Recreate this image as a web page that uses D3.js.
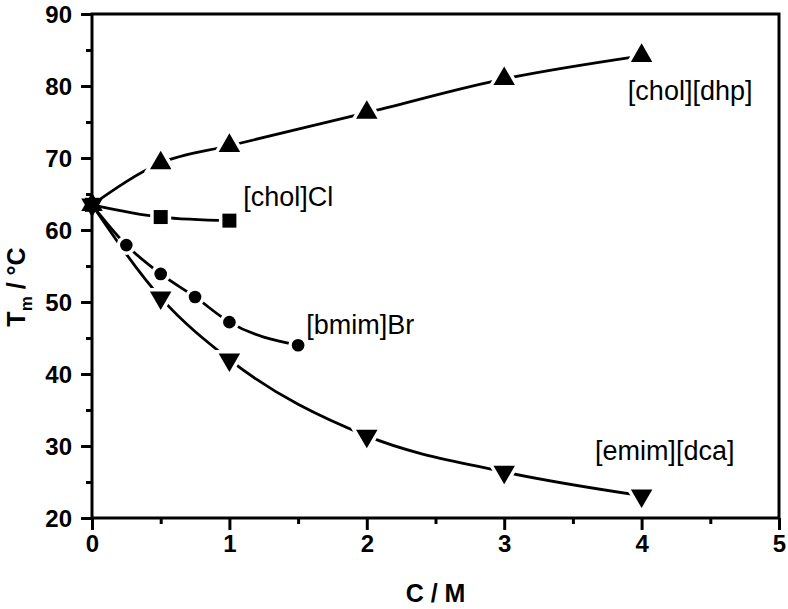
<!DOCTYPE html>
<html><head><meta charset="utf-8">
<script src="https://cdn.jsdelivr.net/npm/d3@7"></script>
<style>body{margin:0;background:#fff}svg{display:block}</style>
</head><body>
<svg id="c" width="788" height="609"></svg>
<script>
// ---- data ----
const xDhp = [0, 0.5, 1, 2, 3, 4];
const yDhp = [63.5, 69.3, 71.7, 76.3, 81.0, 84.2];
const xCl = [0, 0.5, 1];
const yCl = [63.5, 61.8, 61.3];
const xBmim = [0, 0.25, 0.5, 0.75, 1, 1.5];
const yBmim = [63.5, 57.9, 53.9, 50.7, 47.2, 44.0];
const xEmim = [0, 0.5, 1, 2, 3, 4];
const yEmim = [63.5, 50.6, 42.0, 31.4, 26.4, 23.1];
const xTicks = [0, 1, 2, 3, 4, 5];
const yTicks = [20, 30, 40, 50, 60, 70, 80, 90];
const xMinor = [0.5, 1.5, 2.5, 3.5, 4.5];
const yMinor = [25, 35, 45, 55, 65, 75, 85];
const seriesLabels = ["[chol][dhp]", "[chol]Cl", "[bmim]Br", "[emim][dca]"];
const labelPos = [[3.9, 84.2 - 6.2], [1.1, 63.3], [1.56, 45.5], [3.66, 28.0]];

const svg = d3.select("#c");
const L = 92, R = 779, T = 14, B = 518;
const x = d3.scaleLinear().domain([0, 5]).range([L, R]);
const y = d3.scaleLinear().domain([20, 90]).range([B, T]);
const FONT = "'Liberation Sans', Arial, sans-serif";

// axes
const gx = svg.append("g").attr("transform", `translate(0,${B})`)
  .call(d3.axisBottom(x).tickValues(xTicks).tickSize(12).tickPadding(5).tickFormat(d3.format("d")));
const gxm = svg.append("g").attr("transform", `translate(0,${B})`)
  .call(d3.axisBottom(x).tickValues(xMinor).tickSize(6).tickFormat(""));
const gy = svg.append("g").attr("transform", `translate(${L},0)`)
  .call(d3.axisLeft(y).tickValues(yTicks).tickSize(11).tickPadding(9).tickFormat(d3.format("d")));
const gym = svg.append("g").attr("transform", `translate(${L},0)`)
  .call(d3.axisLeft(y).tickValues(yMinor).tickSize(6).tickFormat(""));
[gx, gxm, gy, gym].forEach(g => {
  g.select(".domain").remove();
  g.selectAll(".tick line").attr("stroke", "#000").attr("stroke-width", 3);
  g.selectAll(".tick text").attr("fill", "#000").style("font-family", FONT)
    .style("font-size", "24px").style("font-weight", "bold");
});
gy.selectAll(".tick text").attr("dy", "0.36em");

// frame
svg.append("rect").attr("x", L).attr("y", T).attr("width", R - L).attr("height", B - T)
  .attr("fill", "none").attr("stroke", "#000").attr("stroke-width", 3);

// axis titles
svg.append("text").attr("x", x(2.5)).attr("y", 602).attr("text-anchor", "middle")
  .style("font-family", FONT).style("font-size", "25px").style("font-weight", "bold").text("C / M");
const yt = svg.append("text").attr("transform", "translate(25,287) rotate(-90)")
  .attr("text-anchor", "middle").style("font-family", FONT).style("font-size", "25px").style("font-weight", "bold");
yt.append("tspan").text("T");
yt.append("tspan").attr("dy", 7).style("font-size", "17px").text("m");
yt.append("tspan").attr("dy", -7).text(" / °C");

// series
const series = [
  {xs: xDhp, ys: yDhp, sym: d3.symbolTriangle, size: 200, rot: 0},
  {xs: xCl, ys: yCl, sym: d3.symbolSquare, size: 196, rot: 0},
  {xs: xBmim, ys: yBmim, sym: d3.symbolCircle, size: 125, rot: 0},
  {xs: xEmim, ys: yEmim, sym: d3.symbolTriangle, size: 200, rot: 180}
];
const line = d3.line().x(d => x(d[0])).y(d => y(d[1])).curve(d3.curveMonotoneX);
series.forEach(s => {
  const pts = s.xs.map((v, i) => [v, s.ys[i]]);
  svg.append("path").datum(pts).attr("d", line).attr("fill", "none")
    .attr("stroke", "#000").attr("stroke-width", 2.8);
});
series.forEach(s => {
  const pts = s.xs.map((v, i) => [v, s.ys[i]]);
  const sym = d3.symbol().type(s.sym).size(s.size);
  svg.append("g").selectAll("path").data(pts.filter(p => p[0] > 0)).join("path")
    .attr("transform", p => `translate(${x(p[0])},${y(p[1])}) rotate(${s.rot})`)
    .attr("d", sym).attr("fill", "#fff").attr("stroke", "#fff").attr("stroke-width", 7);
});
series.forEach(s => {
  const pts = s.xs.map((v, i) => [v, s.ys[i]]);
  const sym = d3.symbol().type(s.sym).size(s.size);
  svg.append("g").selectAll("path").data(pts).join("path")
    .attr("transform", p => `translate(${x(p[0])},${y(p[1])}) rotate(${s.rot})`)
    .attr("d", sym).attr("fill", "#000");
});

// series labels
seriesLabels.forEach((t, i) => {
  svg.append("text").attr("x", x(labelPos[i][0])).attr("y", y(labelPos[i][1]))
    .style("font-family", FONT).style("font-size", "27px").attr("fill", "#000").text(t);
});
</script>
</body></html>
